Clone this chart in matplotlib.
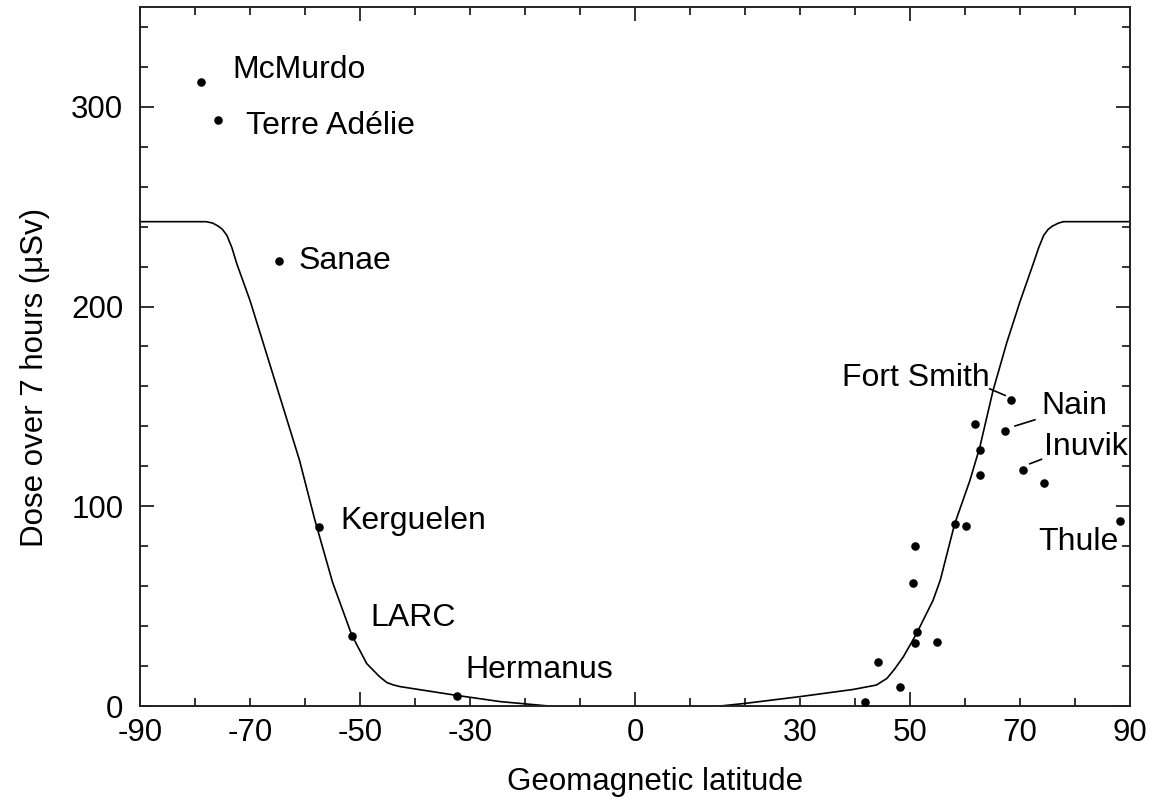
import matplotlib

matplotlib.use("Agg")
import matplotlib.pyplot as plt
from matplotlib.ticker import FixedLocator, FuncFormatter, NullFormatter

plt.rcParams["font.family"] = ["Liberation Sans", "DejaVu Sans"]
plt.rcParams["axes.unicode_minus"] = False

# model curve (southern and northern branches)
south_curve_lat = [-90, -78, -76.8, -75.8, -75, -74.2, -73.3, -72.4, -70, -67, -64, -61,
                   -58.2, -55, -51.5, -48.8, -46.5, -45.1, -44, -42.7, -32.4, -24.5, -15.7]
south_curve_dose = [242.5, 242.5, 241.8, 240.3, 238.6, 235.6, 229.5, 221.4, 203, 176.4,
                    149.7, 123, 93, 62, 35.5, 21.3, 14.8, 11.7, 10.6, 9.7, 5.3, 2.2, 0]
north_curve_lat = [15.5, 20, 30, 39.7, 43.9, 45.8, 47.2, 48.8, 51.2, 52.4, 54.2, 55.5,
                   58.1, 60.9, 62.7, 65.1, 67.6, 70, 72.4, 73.4, 74.3, 75.1, 75.9, 77, 77.9, 90]
north_curve_dose = [0, 1.3, 4.7, 8.3, 10.5, 13.8, 18.5, 24.7, 36.3, 43, 53, 63,
                    91, 113, 129.7, 158, 182, 202.5, 221.4, 229.5, 235.6, 238.6, 240.3,
                    241.8, 242.5, 242.5]

# measured stations
south_lat = [-78.9, -75.8, -64.7, -57.4, -51.5, -32.4]
south_dose = [312.2, 293.3, 222.7, 89.7, 35.0, 5.0]
north_lat = [41.9, 44.1, 48.1, 50.9, 51.2, 50.5, 50.9, 54.9, 58.1, 60.2,
             62.7, 62.8, 61.8, 67.3, 68.3, 70.5, 74.4, 88.2]
north_dose = [1.8, 21.8, 9.7, 31.7, 37.3, 61.7, 80.2, 32.2, 91.3, 90.3,
              115.5, 128.3, 141.3, 137.5, 153.0, 118.0, 111.8, 92.8]

label_names = ["McMurdo", "Terre Adélie", "Sanae", "Kerguelen", "LARC",
               "Hermanus", "Fort Smith", "Nain", "Inuvik", "Thule"]
label_lat = [-73.2, -70.8, -61.1, -53.5, -48.1, -30.8, 37.6, 73.8, 74.3, 73.4]
label_dose = [318.5, 290.5, 222.8, 92.8, 44.2, 18.0, 164.0, 150.3, 129.5, 82.0]

leader_lat = [(64.5, 67.3), (69.1, 72.7), (71.8, 73.9)]
leader_dose = [(158.8, 155.5), (140.2, 143.3), (121.3, 123.5)]

xtick_labels = [-90, -70, -50, -30, 0, 30, 50, 70, 90]

fig = plt.figure(figsize=(11.64, 8.0), dpi=100)
ax = fig.add_axes([0.1203, 0.1175, 0.8505, 0.8738])

ax.plot(south_curve_lat, south_curve_dose, color="black", linewidth=1.2)
ax.plot(north_curve_lat, north_curve_dose, color="black", linewidth=1.2)
ax.scatter(south_lat + north_lat, south_dose + north_dose, s=38, color="black",
           zorder=3, linewidths=0)

for name, lat, dose in zip(label_names, label_lat, label_dose):
    ax.text(lat, dose, name, fontsize=23, ha="left", va="center", color="black")
for lats, doses in zip(leader_lat, leader_dose):
    ax.plot(lats, doses, color="black", linewidth=1.2)

ax.set_xlim(-90, 90)
ax.set_ylim(0, 350)

ax.xaxis.set_major_locator(FixedLocator([-50, 0, 50]))
ax.xaxis.set_minor_locator(FixedLocator(range(-90, 91, 10)))
ax.xaxis.set_major_formatter(FuncFormatter(lambda v, _: f"{v:.0f}"))
ax.xaxis.set_minor_formatter(
    FuncFormatter(lambda v, _: f"{v:.0f}" if round(v) in xtick_labels and round(v) not in (-50, 0, 50) else "")
)
ax.yaxis.set_major_locator(FixedLocator([0, 100, 200, 300]))
ax.yaxis.set_minor_locator(FixedLocator(range(0, 351, 20)))
ax.yaxis.set_minor_formatter(NullFormatter())

ax.tick_params(which="both", direction="in", top=True, right=True, color="#222222",
               width=1.3, labelsize=22.5)
ax.tick_params(which="major", length=10)
ax.tick_params(which="minor", length=6)
ax.tick_params(axis="x", which="both", pad=8.5)
ax.tick_params(axis="y", which="both", pad=12)

for spine in ax.spines.values():
    spine.set_linewidth(1.4)
    spine.set_color("#222222")

ax.set_xlabel("Geomagnetic latitude", fontsize=22.5)
ax.set_ylabel("Dose over 7 hours (μSv)", fontsize=22.5)
ax.xaxis.set_label_coords(0.52, -0.087)
ax.yaxis.set_label_coords(-0.091, 0.47)

fig.savefig("out.png", dpi=100)
